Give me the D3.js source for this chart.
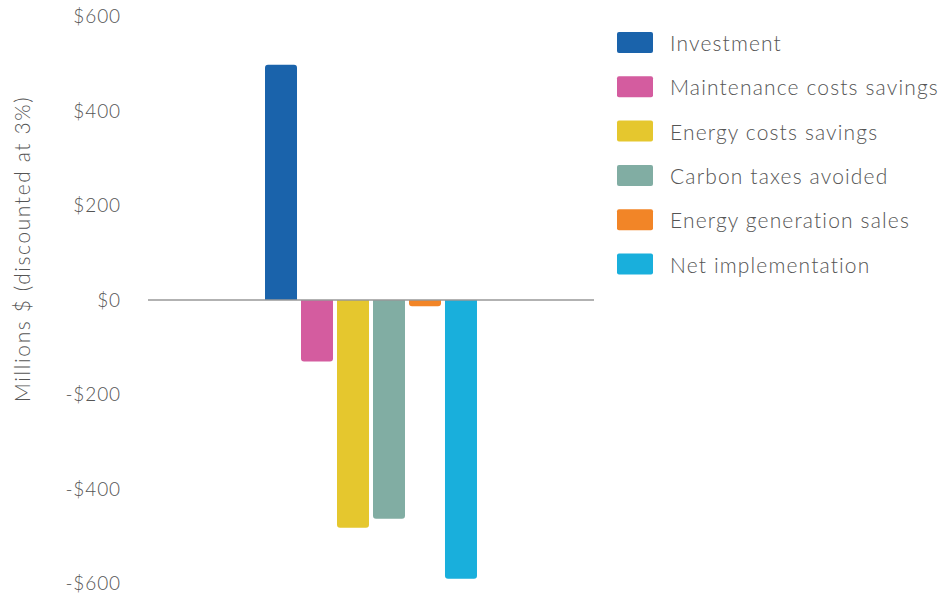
<!DOCTYPE html>
<html>
<head>
<meta charset="utf-8">
<script src="https://cdn.jsdelivr.net/npm/d3@7"></script>
<style>
  body { margin: 0; background: #fff; }
  svg { display: block; font-family: Lato, "Open Sans", sans-serif; font-weight: 300; }
</style>
</head>
<body>
<script>
window.onload = main;

const series = ["Investment", "Maintenance costs savings", "Energy costs savings",
                "Carbon taxes avoided", "Energy generation sales", "Net implementation"];
const values = [498, -130, -482, -463, -13, -590];
const colors = ["#1a63ab", "#d45c9f", "#e5c72e", "#81ada3", "#f28527", "#19afdc"];
const yTicks = [-600, -400, -200, 0, 200, 400, 600];
const groups = ["Total"];

const svgWidth = 940;
const svgHeight = 598;

function main() {
    const svg = d3.select("body")
        .append("svg")
        .attr("width", svgWidth)
        .attr("height", svgHeight);

    const y = d3.scaleLinear().domain([-600, 600]).range([583.5, 16.5]);
    const x0 = d3.scaleBand().domain(groups).range([148, 594]).paddingInner(0).paddingOuter(0.552);
    const x1 = d3.scaleBand().domain(series).range([0, x0.bandwidth()]).paddingInner(4 / 36).paddingOuter(0);
    const color = d3.scaleOrdinal().domain(series).range(colors);

    // y axis labels
    const yAxis = d3.axisLeft(y)
        .tickValues(yTicks)
        .tickSize(0)
        .tickPadding(27)
        .tickFormat(d => (d < 0 ? "-$" : "$") + Math.abs(d));

    const gAxis = svg.append("g")
        .attr("transform", "translate(148,0)")
        .call(yAxis);
    gAxis.select(".domain").remove();
    gAxis.selectAll("text")
        .attr("fill", "#555")
        .style("font-size", "19px")
        .style("letter-spacing", "0.9px")
        .style("font-family", "Lato, sans-serif")
        .style("font-weight", 300);

    svg.append("text")
        .attr("transform", "translate(21,249) rotate(-90)")
        .attr("text-anchor", "middle")
        .attr("dominant-baseline", "central")
        .attr("fill", "#555")
        .style("font-size", "21px")
        .style("letter-spacing", "1.6px")
        .text("Millions $ (discounted at 3%)");

    // bars, rounded on the end away from zero
    const r = 3;
    const barPath = (d, i) => {
        const x = x0(groups[0]) + x1(series[i]);
        const w = x1.bandwidth();
        const y0 = y(0), y1 = y(d);
        const h = Math.abs(y1 - y0);
        const rr = Math.min(r, h / 2, w / 2);
        if (d >= 0) {
            return `M${x},${y0} V${y1 + rr} Q${x},${y1} ${x + rr},${y1} H${x + w - rr} Q${x + w},${y1} ${x + w},${y1 + rr} V${y0} Z`;
        }
        return `M${x},${y0} V${y1 - rr} Q${x},${y1} ${x + rr},${y1} H${x + w - rr} Q${x + w},${y1} ${x + w},${y1 - rr} V${y0} Z`;
    };

    svg.append("g")
        .selectAll("path")
        .data(values)
        .join("path")
        .attr("d", barPath)
        .attr("fill", (d, i) => color(series[i]));

    // zero line
    svg.append("line")
        .attr("x1", x0.range()[0])
        .attr("x2", x0.range()[1])
        .attr("y1", y(0))
        .attr("y2", y(0))
        .attr("stroke", "#999")
        .attr("stroke-width", 1.5);

    // legend
    const legend = svg.append("g")
        .selectAll("g")
        .data(series)
        .join("g")
        .attr("transform", (d, i) => `translate(617,${42.5 + i * 44.3})`);

    legend.append("rect")
        .attr("x", 0)
        .attr("y", -10.5)
        .attr("width", 36)
        .attr("height", 21)
        .attr("rx", 2)
        .attr("fill", d => color(d));

    legend.append("text")
        .attr("x", 53)
        .attr("y", 0)
        .attr("dominant-baseline", "central")
        .attr("fill", "#555")
        .style("font-size", "21px")
        .style("letter-spacing", "1.15px")
        .text(d => d);
}
</script>
</body>
</html>
